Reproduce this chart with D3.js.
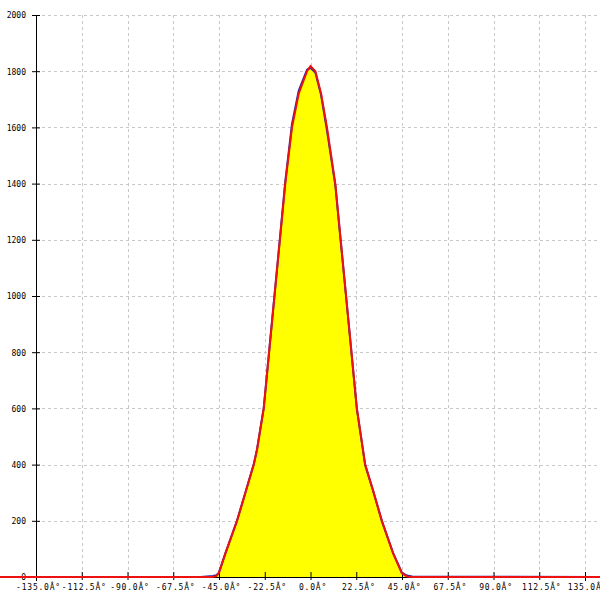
<!DOCTYPE html>
<html>
<head>
<meta charset="utf-8">
<script src="https://cdn.jsdelivr.net/npm/d3@7"></script>
<style>
html,body{margin:0;padding:0;background:#fff;}
svg{display:block;}
text{font-family:"DejaVu Sans Mono",monospace;fill:#000;}
</style>
</head>
<body>
<svg id="chart" width="600" height="600"></svg>
<script>
// ---- data ----
const xTickValues = [-135, -112.5, -90, -67.5, -45, -22.5, 0, 22.5, 45, 67.5, 90, 112.5, 135];
const xTickLabels = ["-135.0Â°","-112.5Â°","-90.0Â°","-67.5Â°","-45.0Â°","-22.5Â°","0.0Â°","22.5Â°","45.0Â°","67.5Â°","90.0Â°","112.5Â°","135.0Â°"];
const yTickValues = [0, 200, 400, 600, 800, 1000, 1200, 1400, 1600, 1800, 2000];
const angles     = [-155, -54, -48, -46.3, -45.1, -41.8, -36.1, -32.4, -27.9, -26.3, -23.0, -20.35, -17.7, -15.05, -12.4, -9.1, -5.8, -1.7, 0, 2.4, 5.2, 8.1, 12.2, 14.85, 17.5, 20.15, 22.8, 26.9, 30.7, 35.1, 40.6, 44.9, 47.4, 50, 145];
const fitValues  = [0, 0, 0, 3, 14, 85, 200, 290, 400, 452, 600, 800, 1000, 1200, 1400, 1600, 1720, 1800, 1818, 1800, 1721, 1600, 1400, 1200, 1000, 800, 600, 400, 310, 200, 85, 14, 2, 0, 0];
const dataValues = [0, 0, 4, 6, 14, 86, 202, 292, 402, 455, 602, 803, 1004, 1205, 1408, 1612, 1730, 1805, 1812, 1795, 1715, 1590, 1395, 1195, 998, 798, 598, 398, 309, 199, 86, 16, 5, 2, 0];

// ---- layout ----
const svg = d3.select("#chart");
const x = d3.scaleLinear().domain([-135, 135]).range([36, 585]);
const y = d3.scaleLinear().domain([0, 2000]).range([577, 15]);

// grid
const grid = svg.append("g").attr("stroke", "#c8c8c8").attr("stroke-width", 1).attr("stroke-dasharray", "3,3");
grid.selectAll("line.v").data(xTickValues.slice(1)).enter().append("line")
  .attr("x1", d => Math.round(x(d)) + 0.5).attr("x2", d => Math.round(x(d)) + 0.5)
  .attr("y1", y(2000)).attr("y2", y(0));
grid.selectAll("line.h").data(yTickValues.slice(1)).enter().append("line")
  .attr("y1", d => Math.round(y(d)) + 0.5).attr("y2", d => Math.round(y(d)) + 0.5)
  .attr("x1", x(-135)).attr("x2", 600);

const pts = angles.map((a, i) => ({a, fit: fitValues[i], dat: dataValues[i]}));
const curve = d3.curveLinear;

// area fill
const area = d3.area().curve(curve).x(d => x(d.a)).y0(y(0)).y1(d => y(d.fit));
svg.append("path").datum(pts.filter(d => d.a >= -50 && d.a <= 50))
  .attr("d", area).attr("fill", "#ffff00");

// axes
const yAxis = d3.axisLeft(y).tickValues(yTickValues).tickSize(4).tickPadding(5).tickFormat(d3.format("d"));
const yg = svg.append("g").attr("transform", "translate(" + x(-135) + ",0)").call(yAxis);
yg.select(".domain").attr("d", "M0.5," + y(2000) + "V" + (y(0) + 4)).attr("stroke", "#000");
yg.selectAll(".tick line").attr("x1", 4).attr("x2", -4).attr("stroke", "#000");
yg.selectAll(".tick text").style("font-size", "8px").attr("dy", "0.35em").attr("x", -10);

const xAxis = d3.axisBottom(x).tickValues(xTickValues).tickSize(4).tickFormat((d, i) => xTickLabels[i]);
const xg = svg.append("g").attr("transform", "translate(0," + y(0) + ")").call(xAxis);
xg.select(".domain").attr("stroke", "#000");
xg.selectAll(".tick line").attr("y1", -5).attr("y2", 3).attr("stroke", "#000");
xg.selectAll(".tick text").style("font-size", "8px").style("letter-spacing", "0.8px")
  .attr("y", 10).attr("dy", "0.35em").attr("dx", 2);
svg.selectAll(".tick text").style("font-family", "DejaVu Sans Mono, monospace");

// lines
const lineData = d3.line().curve(curve).x(d => x(d.a)).y(d => y(d.dat));
const lineFit = d3.line().curve(curve).x(d => x(d.a)).y(d => y(d.fit));
svg.append("path").datum(pts).attr("d", lineData).attr("fill", "none")
  .attr("stroke", "#2a2aa0").attr("stroke-width", 2);
svg.append("path").datum(pts).attr("d", lineFit).attr("fill", "none")
  .attr("stroke", "#ee1111").attr("stroke-width", 2);
</script>
</body>
</html>
